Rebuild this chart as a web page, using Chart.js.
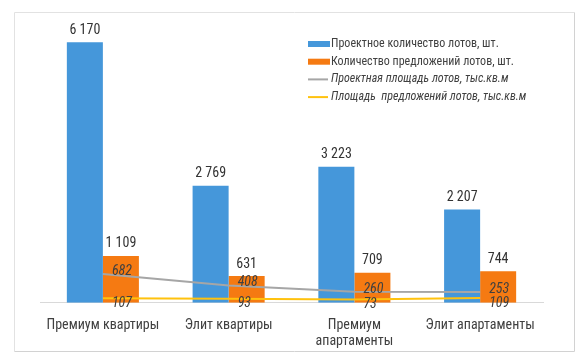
<!DOCTYPE html>
<html><head><meta charset="utf-8">
<script src="https://cdn.jsdelivr.net/npm/chart.js@4"></script>
<style>html,body{margin:0;padding:0;background:#fff;overflow:hidden}canvas{display:block}</style>
</head><body><canvas id="c" width="585" height="357" style="width:585px;height:357px"></canvas>
<script>
const categories = ['Премиум квартиры', 'Элит квартиры', ['Премиум', 'апартаменты'], 'Элит апартаменты'];
const projectLots = [6170, 2769, 3223, 2207];
const offeredLots = [1109, 631, 709, 744];
const projectArea = [682, 408, 260, 253];
const offeredArea = [107, 93, 73, 109];
const seriesNames = [
  'Проектное количество лотов, шт.',
  'Количество предложений лотов, шт.',
  'Проектная площадь лотов, тыс.кв.м',
  'Площадь  предложений лотов, тыс.кв.м'
];

const FONT = '"Roboto Condensed", Roboto, sans-serif';
const fmt = v => String(v).replace(/\B(?=(\d{3})+(?!\d))/g, ' ');

const frame = {
  id: 'frame',
  afterDraw(chart) {
    const c = chart.ctx;
    c.save();
    c.lineWidth = 1;
    c.strokeStyle = '#e2e2e2';
    c.beginPath();
    c.moveTo(14.5, 351.5); c.lineTo(14.5, 12.5); c.lineTo(574.5, 12.5);
    c.stroke();
    c.strokeStyle = '#d2d2d2';
    c.beginPath();
    c.moveTo(574.5, 12.5); c.lineTo(574.5, 351.5); c.lineTo(14.5, 351.5);
    c.stroke();
    c.restore();
  }
};

const labels = {
  id: 'valueLabels',
  afterDatasetsDraw(chart) {
    const c = chart.ctx;
    c.save();
    chart.data.datasets.forEach((ds, di) => {
      const meta = chart.getDatasetMeta(di);
      meta.data.forEach((el, i) => {
        const v = ds.data[i];
        if (ds.type === 'line') {
          c.font = 'italic 14px ' + FONT;
          c.fillStyle = '#404040';
          c.textAlign = 'left';
          c.textBaseline = 'middle';
          c.fillText(fmt(v), el.x + 9, el.y + ds.labelDy);
        } else {
          c.font = '14px ' + FONT;
          c.fillStyle = '#333333';
          c.textAlign = 'center';
          c.textBaseline = 'middle';
          c.fillText(fmt(v), el.x, el.y - 12);
        }
      });
    });
    c.restore();
  }
};

const legendBox = {
  id: 'legendBox',
  afterDraw(chart) {
    const c = chart.ctx;
    c.save();
    const x0 = 308, tx = 331;
    chart.data.datasets.forEach((ds, i) => {
      const y = 44 + i * 17.7;
      if (ds.type === 'line') {
        c.strokeStyle = ds.borderColor;
        c.lineWidth = 2;
        c.beginPath(); c.moveTo(x0, y); c.lineTo(x0 + 20, y); c.stroke();
        c.font = 'italic 12px ' + FONT;
      } else {
        c.fillStyle = ds.backgroundColor;
        c.fillRect(x0, y - 3, 22, 6);
        c.font = '12px ' + FONT;
      }
      c.fillStyle = '#404040';
      c.textAlign = 'left';
      c.textBaseline = 'middle';
      c.fillText(ds.label, tx, y);
    });
    c.restore();
  }
};

new Chart(document.getElementById('c'), {
  type: 'bar',
  data: {
    labels: categories,
    datasets: [
      { type: 'bar', label: seriesNames[0], data: projectLots, backgroundColor: '#4597DA', order: 2,
        categoryPercentage: 0.573, barPercentage: 1 },
      { type: 'bar', label: seriesNames[1], data: offeredLots, backgroundColor: '#F57A12', order: 2,
        categoryPercentage: 0.573, barPercentage: 1 },
      { type: 'line', label: seriesNames[2], data: projectArea, borderColor: '#A6A6A6', borderWidth: 2,
        pointRadius: 0, tension: 0, order: 1, labelDy: -2.5 },
      { type: 'line', label: seriesNames[3], data: offeredArea, borderColor: '#FFC20E', borderWidth: 2,
        pointRadius: 0, tension: 0, order: 1, labelDy: 5 }
    ]
  },
  options: {
    responsive: false,
    maintainAspectRatio: false,
    animation: false,
    devicePixelRatio: 1,
    layout: { padding: { left: 40, right: 42, top: 20, bottom: 0.3 } },
    plugins: { legend: { display: false }, tooltip: { enabled: false } },
    scales: {
      x: {
        grid: { display: false, drawTicks: false },
        border: { display: true, color: '#D9D9D9', width: 1 },
        ticks: { color: '#404040', font: { family: FONT, size: 14, lineHeight: 1.2 }, padding: 14, maxRotation: 0, autoSkip: false },
        afterFit(s) { s.height = 54; }
      },
      y: { display: false, min: 0, max: 6700 }
    }
  },
  plugins: [frame, labels, legendBox]
});
</script></body></html>
